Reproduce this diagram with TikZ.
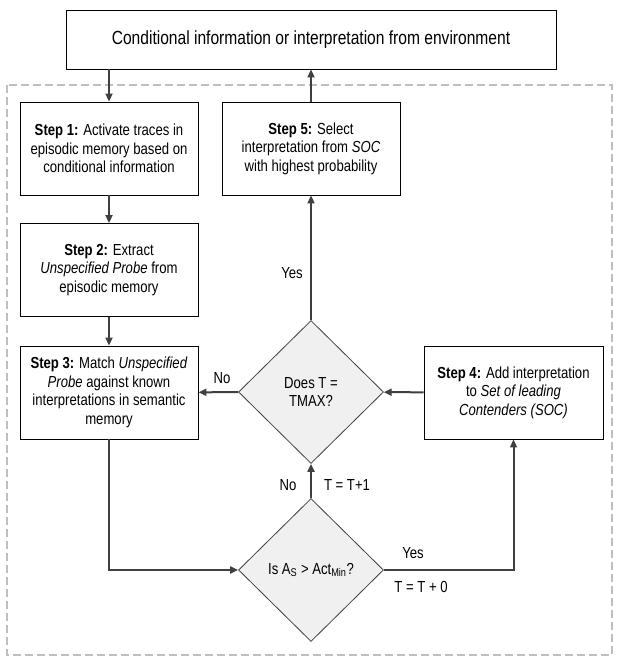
\documentclass[tikz,border=0pt]{standalone}
\usepackage{fontspec}
\setmainfont{Liberation Sans}[FakeStretch=0.82]
\usetikzlibrary{shapes.geometric,arrows.meta}
\definecolor{linegray}{HTML}{404040}
\definecolor{fillgray}{HTML}{F0F0F0}
\definecolor{framegray}{HTML}{BFBFBF}
\newcommand{\stepfont}{\fontsize{16}{18.5}\selectfont}
\begin{document}
\begin{tikzpicture}[x=1pt, y=-1pt, >={Triangle[length=8pt,width=7pt]},
  stepbox/.style={draw=black, line width=0.9pt, rectangle, minimum width=178pt, minimum height=93pt, align=center, inner sep=2pt, font=\stepfont},
  decision/.style={draw=linegray, line width=0.8pt, fill=fillgray, diamond, minimum width=145pt, minimum height=143pt, inner sep=0pt, align=center, font=\stepfont},
  flow/.style={draw=linegray, line width=2pt, ->},
  lbl/.style={font=\stepfont, inner sep=1pt}]
\useasboundingbox (0,0) rectangle (623,661);
\draw[framegray, line width=2.5pt, dash pattern=on 8pt off 4pt] (7,85) rectangle (612,655);
\node[draw=black, line width=0.9pt, minimum width=490pt, minimum height=59pt, font=\fontsize{19}{22}\selectfont] (env) at (311,39.5) {Conditional information or interpretation from environment};
\node[stepbox] (s1) at (109,148.5) {\textbf{Step 1:} Activate traces in\\episodic memory based on\\conditional information};
\node[stepbox] (s5) at (311,148.5) {\textbf{Step 5:} Select\\interpretation from \textit{SOC}\\with highest probability};
\node[stepbox] (s2) at (109,270) {\textbf{Step 2:} Extract\\\textit{Unspecified Probe} from\\episodic memory};
\node[stepbox] (s3) at (109,392.5) {\textbf{Step 3:} Match \textit{Unspecified}\\\textit{Probe} against known\\interpretations in semantic\\memory};
\node[stepbox, minimum width=179pt] (s4) at (513.5,392.5) {\textbf{Step 4:} Add interpretation\\to \textit{Set of leading}\\\textit{Contenders (SOC)}};
\node[decision] (tmax) at (311,392) {Does T =\\TMAX?};
\node[decision] (actmin) at (311,570) {Is A\textsubscript{S} > Act\textsubscript{Min}?};
\draw[flow] (env.south -| s1) -- (s1);
\draw[flow] (s5) -- (env);
\draw[flow] (s1) -- (s2);
\draw[flow] (s2) -- (s3);
\draw[flow] (s3) |- (actmin);
\draw[flow] (actmin) -| (s4);
\draw[flow] (actmin) -- (tmax);
\draw[flow] (s4) -- (tmax);
\draw[flow] (tmax) -- (s3);
\draw[flow] (tmax) -- (s5);
\node[lbl] (yesup) at (292,273) {Yes};
\node[lbl] (noleft) at (222,378) {No};
\node[lbl] (noup) at (288,485) {No};
\node[lbl] (incr) at (347,485) {T = T+1};
\node[lbl] (yesright) at (413,553) {Yes};
\node[lbl] (keep) at (421,587) {T = T + 0};
\end{tikzpicture}
\end{document}
